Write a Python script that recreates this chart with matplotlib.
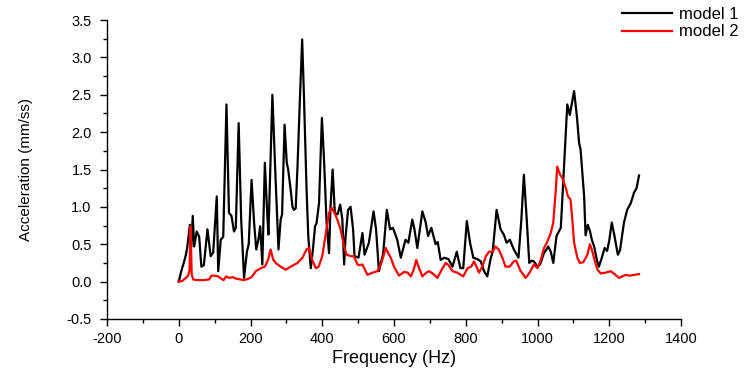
import matplotlib
matplotlib.use("Agg")
import matplotlib.pyplot as plt
from matplotlib.ticker import MultipleLocator

plt.rcParams['font.family'] = ['Liberation Sans', 'DejaVu Sans']
plt.rcParams['axes.unicode_minus'] = False

# model 1 (black)
freq1 = [0, 6, 10, 14, 20, 24, 31, 35, 39, 43, 50, 57, 63, 70, 80, 89, 96, 106, 110, 117,
         124, 133, 140, 147, 154, 159, 167, 174, 182, 190, 195, 203, 210, 216, 222, 227, 233,
         240, 247, 250, 261, 270, 278, 284, 288, 295, 301, 305, 312, 317, 321, 326, 331, 338,
         344, 349, 356, 361, 368, 374, 380, 384, 391, 399, 405, 412, 419, 423, 429, 435, 443,
         450, 456, 461, 465, 472, 479, 486, 490, 501, 512, 518, 530, 543, 550, 558, 570, 580,
         589, 597, 609, 619, 632, 640, 651, 657, 665, 679, 688, 695, 704, 716, 722, 730, 740,
         752, 763, 775, 785, 793, 803, 812, 821, 833, 842, 851, 860, 869, 875, 886, 897, 906,
         914, 923, 934, 947, 955, 962, 970, 977, 984, 990, 1000, 1007, 1018, 1030, 1037, 1044,
         1053, 1065, 1074, 1083, 1090, 1102, 1110, 1116, 1120, 1130, 1134, 1140, 1146, 1152,
         1158, 1165, 1171, 1178, 1187, 1194, 1200, 1207, 1213, 1224, 1230, 1241, 1250, 1260,
         1269, 1276, 1283]
acc1 = [0.00, 0.12, 0.19, 0.25, 0.36, 0.47, 0.76, 0.47, 0.88, 0.47, 0.67, 0.60, 0.20, 0.22,
        0.70, 0.34, 0.39, 1.14, 0.14, 0.56, 0.60, 2.37, 0.92, 0.88, 0.67, 0.72, 2.12, 0.83,
        0.05, 0.40, 0.50, 1.36, 0.79, 0.43, 0.56, 0.74, 0.23, 1.59, 0.87, 0.63, 2.50, 1.36,
        0.43, 0.83, 0.90, 2.10, 1.59, 1.50, 1.23, 1.00, 0.96, 0.98, 1.54, 2.48, 3.24, 2.48,
        1.28, 0.61, 0.18, 0.43, 0.74, 0.78, 1.05, 2.19, 1.63, 0.79, 0.38, 1.00, 1.50, 0.92,
        0.90, 1.03, 0.83, 0.23, 0.60, 0.96, 1.00, 0.70, 0.34, 0.32, 0.65, 0.36, 0.52, 0.94,
        0.70, 0.14, 0.38, 0.96, 0.70, 0.72, 0.56, 0.32, 0.56, 0.52, 0.83, 0.70, 0.45, 0.94,
        0.80, 0.61, 0.72, 0.50, 0.53, 0.29, 0.32, 0.30, 0.20, 0.40, 0.18, 0.18, 0.81, 0.52,
        0.32, 0.30, 0.27, 0.14, 0.07, 0.30, 0.40, 0.96, 0.70, 0.63, 0.52, 0.56, 0.43, 0.32,
        0.83, 1.43, 0.83, 0.25, 0.28, 0.27, 0.20, 0.23, 0.38, 0.47, 0.40, 0.25, 0.61, 0.72,
        1.54, 2.37, 2.23, 2.55, 2.20, 1.85, 1.77, 1.14, 0.62, 0.76, 0.68, 0.55, 0.47, 0.30,
        0.20, 0.30, 0.45, 0.41, 0.55, 0.79, 0.65, 0.36, 0.42, 0.79, 0.96, 1.05, 1.19, 1.25,
        1.42]

# model 2 (red)
freq2 = [0, 10, 20, 26, 30, 33, 36, 40, 50, 70, 85, 91, 100, 110, 118, 125, 132, 140, 150,
         160, 170, 182, 195, 203, 215, 229, 240, 249, 256, 263, 270, 284, 298, 312, 331, 345,
         356, 363, 372, 382, 390, 400, 410, 419, 426, 434, 442, 451, 461, 468, 480, 488, 498,
         505, 512, 526, 540, 554, 565, 577, 584, 591, 600, 614, 628, 638, 647, 655, 662, 670,
         679, 690, 698, 710, 721, 733, 744, 752, 763, 776, 793, 805, 815, 823, 830, 837, 846,
         856, 865, 875, 883, 892, 902, 911, 922, 934, 941, 952, 967, 978, 990, 1000, 1009,
         1018, 1026, 1037, 1044, 1051, 1055, 1063, 1069, 1079, 1085, 1092, 1097, 1102, 1111,
         1118, 1128, 1139, 1146, 1152, 1159, 1167, 1176, 1190, 1204, 1215, 1227, 1246, 1258,
         1269, 1283]
acc2 = [0.00, 0.01, 0.05, 0.08, 0.15, 0.74, 0.10, 0.03, 0.02, 0.02, 0.03, 0.08, 0.08, 0.07,
        0.04, 0.02, 0.07, 0.05, 0.06, 0.04, 0.03, 0.02, 0.04, 0.06, 0.14, 0.18, 0.20, 0.29,
        0.43, 0.30, 0.25, 0.20, 0.16, 0.20, 0.25, 0.32, 0.43, 0.45, 0.29, 0.18, 0.20, 0.34,
        0.65, 0.92, 0.99, 0.92, 0.83, 0.70, 0.47, 0.36, 0.34, 0.34, 0.23, 0.22, 0.23, 0.09,
        0.12, 0.14, 0.25, 0.45, 0.38, 0.32, 0.20, 0.08, 0.13, 0.12, 0.07, 0.16, 0.29, 0.18,
        0.07, 0.12, 0.14, 0.10, 0.05, 0.16, 0.25, 0.22, 0.14, 0.12, 0.07, 0.18, 0.20, 0.27,
        0.20, 0.12, 0.20, 0.34, 0.40, 0.40, 0.47, 0.43, 0.32, 0.20, 0.20, 0.27, 0.28, 0.15,
        0.05, 0.12, 0.23, 0.18, 0.29, 0.45, 0.52, 0.65, 0.79, 1.23, 1.54, 1.43, 1.39, 1.25,
        1.14, 1.10, 0.83, 0.52, 0.32, 0.25, 0.26, 0.36, 0.50, 0.42, 0.29, 0.16, 0.11, 0.12,
        0.14, 0.10, 0.05, 0.09, 0.08, 0.09, 0.10]

fig = plt.figure(figsize=(7.56, 3.71), dpi=100)
ax = fig.add_axes([107/756, 1 - 319/371, (681 - 107)/756, (319 - 20)/371])

ax.plot(freq1, acc1, color='black', lw=1.6, label='model 1')
ax.plot(freq2, acc2, color='red', lw=1.6, label='model 2')

ax.set_xlim(-200, 1400)
ax.set_ylim(-0.5, 3.5)
ax.xaxis.set_major_locator(MultipleLocator(200))
ax.xaxis.set_minor_locator(MultipleLocator(100))
ax.yaxis.set_major_locator(MultipleLocator(0.5))
ax.yaxis.set_minor_locator(MultipleLocator(0.25))
ax.yaxis.set_major_formatter(plt.FormatStrFormatter('%.1f'))

for s in ['top', 'right']:
    ax.spines[s].set_visible(False)
for s in ['left', 'bottom']:
    ax.spines[s].set_linewidth(1.0)

ax.tick_params(which='major', direction='out', length=5, width=1, labelsize=10.5)
ax.tick_params(which='minor', direction='out', length=3, width=1)
ax.tick_params(axis='x', which='major', pad=4.5)
ax.tick_params(axis='y', which='major', pad=6)

ax.set_xlabel('Frequency (Hz)', fontsize=13, labelpad=3)
ax.set_ylabel('Acceleration (mm/ss)', fontsize=11, labelpad=24)

ax.legend(loc='upper left', bbox_to_anchor=(622/756, 1 - 7/371), bbox_transform=fig.transFigure,
          frameon=False, fontsize=12, handlelength=3.0, handletextpad=0.4,
          labelspacing=0.15, borderpad=0, borderaxespad=0)

fig.savefig('out.png', dpi=100)
